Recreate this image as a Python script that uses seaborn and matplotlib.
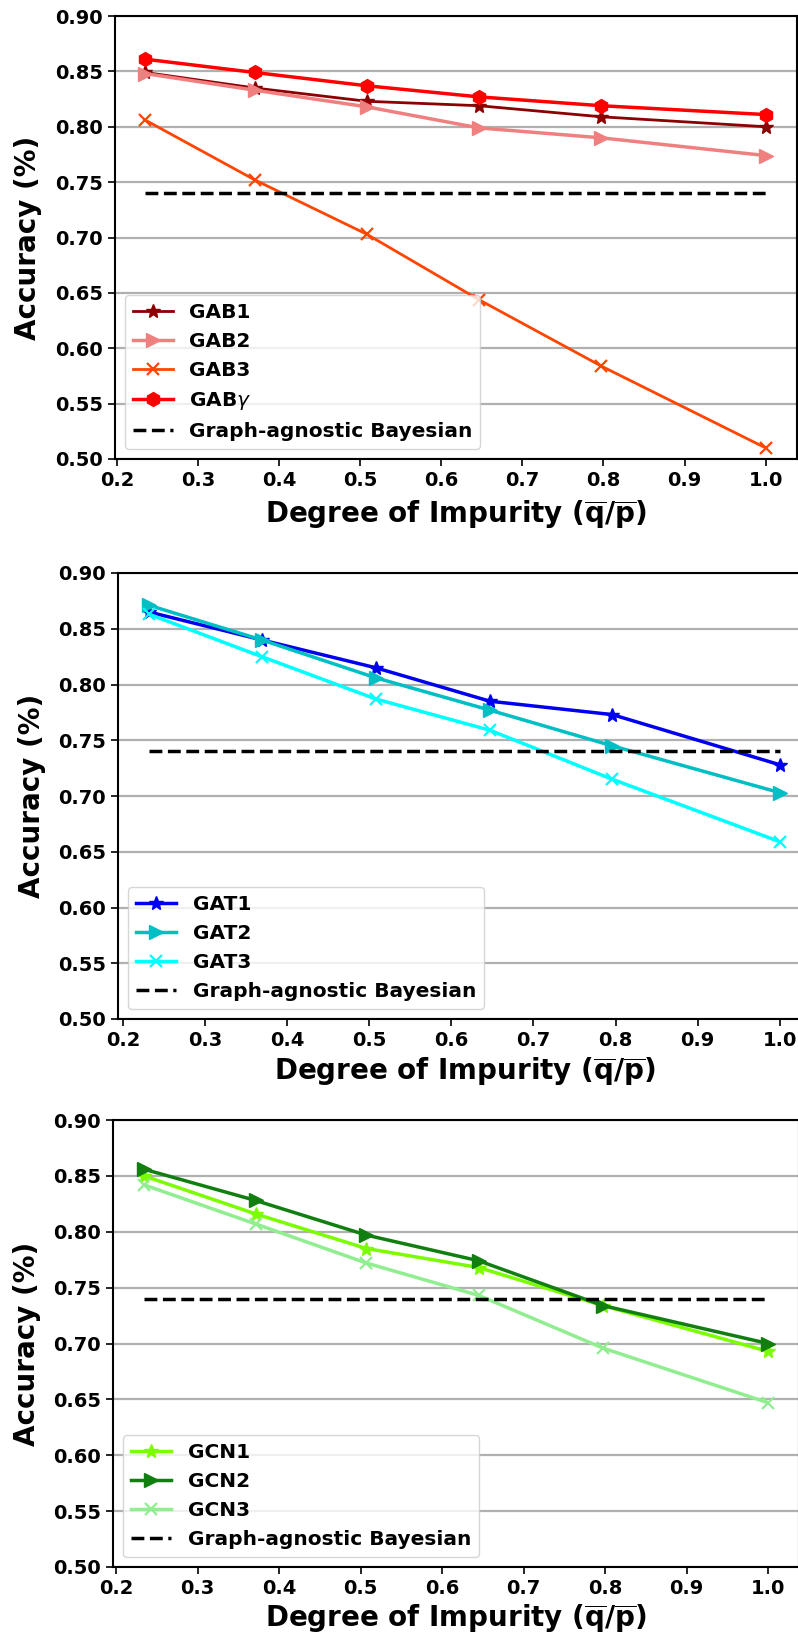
import matplotlib
matplotlib.use("Agg")
import matplotlib.pyplot as plt
import seaborn as sns
import numpy as np

# ---- data ----
x_gab = [0.235, 0.37, 0.508, 0.646, 0.797, 1.0]
gab1 = [0.849, 0.835, 0.823, 0.819, 0.809, 0.800]
gab2 = [0.848, 0.833, 0.818, 0.799, 0.790, 0.774]
gab3 = [0.806, 0.752, 0.703, 0.644, 0.584, 0.510]
gabg = [0.861, 0.849, 0.837, 0.827, 0.819, 0.811]

x_gat = [0.232, 0.369, 0.508, 0.647, 0.796, 1.0]
gat1 = [0.865, 0.840, 0.815, 0.785, 0.773, 0.728]
gat2 = [0.871, 0.840, 0.806, 0.777, 0.745, 0.703]
gat3 = [0.863, 0.825, 0.787, 0.759, 0.715, 0.659]

x_gcn = [0.234, 0.371, 0.507, 0.645, 0.797, 1.0]
gcn1 = [0.850, 0.816, 0.785, 0.768, 0.734, 0.693]
gcn2 = [0.856, 0.828, 0.797, 0.774, 0.734, 0.700]
gcn3 = [0.842, 0.807, 0.772, 0.743, 0.696, 0.647]

baseline = 0.74
yticks = [0.50, 0.55, 0.60, 0.65, 0.70, 0.75, 0.80, 0.85, 0.90]
xticks = [0.2, 0.3, 0.4, 0.5, 0.6, 0.7, 0.8, 0.9, 1.0]

panels = [
    (x_gab, [("GAB1", gab1, "#8B0000", "*", 2.0),
             ("GAB2", gab2, "#F08080", ">", 2.5),
             ("GAB3", gab3, "#FF4500", "x", 2.0),
             (r"GAB$\gamma$", gabg, "#FF0000", "h", 2.5)]),
    (x_gat, [("GAT1", gat1, "#0000EE", "*", 2.5),
             ("GAT2", gat2, "#00BFC4", ">", 2.5),
             ("GAT3", gat3, "#00FFFF", "x", 2.5)]),
    (x_gcn, [("GCN1", gcn1, "#7CFC00", "*", 2.5),
             ("GCN2", gcn2, "#107F10", ">", 2.5),
             ("GCN3", gcn3, "#90EE90", "x", 2.5)]),
]

W, H = 798, 1641
fig = plt.figure(figsize=(W / 100, H / 100), dpi=100)
# axes positions in pixels: left, top, bottom, width ; xlabel pad
pos = [(114.5, 16, 459, 682, 6), (118, 573, 1019, 693, 4), (113, 1120, 1567, 686, 3)]

for (xs, series), (l, t, b, w, xpad) in zip(panels, pos):
    ax = fig.add_axes([l / W, 1 - b / H, w / W, (b - t) / H])
    ax.yaxis.grid(True, color="#b0b0b0", linewidth=1.6)
    ax.set_axisbelow(True)
    for name, ys, col, mk, lw in series:
        sns.lineplot(x=xs, y=ys, ax=ax, color=col, marker=mk, label=name,
                     linewidth=lw, markersize=10 if mk != "x" else 9,
                     markeredgecolor=col, markeredgewidth=1.6 if mk == "x" else 1.0)
    sns.lineplot(x=xs, y=[baseline] * len(xs), ax=ax, color="black",
                 linestyle="--", linewidth=2.5, label="Graph-agnostic Bayesian")
    ax.set_ylim(0.5, 0.9)
    ax.set_xlim(min(xs) - 0.038, 1.038)
    ax.set_yticks(yticks)
    ax.set_xticks(xticks)
    ax.set_yticklabels([f"{v:.2f}" for v in yticks], fontsize=14, fontweight="bold")
    ax.set_xticklabels([f"{v:.1f}" for v in xticks], fontsize=14, fontweight="bold")
    ax.set_ylabel("Accuracy (%)", fontsize=20, fontweight="bold", labelpad=9)
    ax.set_xlabel(r"Degree of Impurity ($\mathbf{\overline{q}/\overline{p}}$)",
                  fontsize=20, fontweight="bold", labelpad=xpad)
    for s in ax.spines.values():
        s.set_linewidth(1.5)
    ax.tick_params(width=1.2, length=5)
    leg = ax.legend(loc="lower left", prop={"size": 14.5, "weight": "bold"})

fig.savefig("out.png", dpi=100)
